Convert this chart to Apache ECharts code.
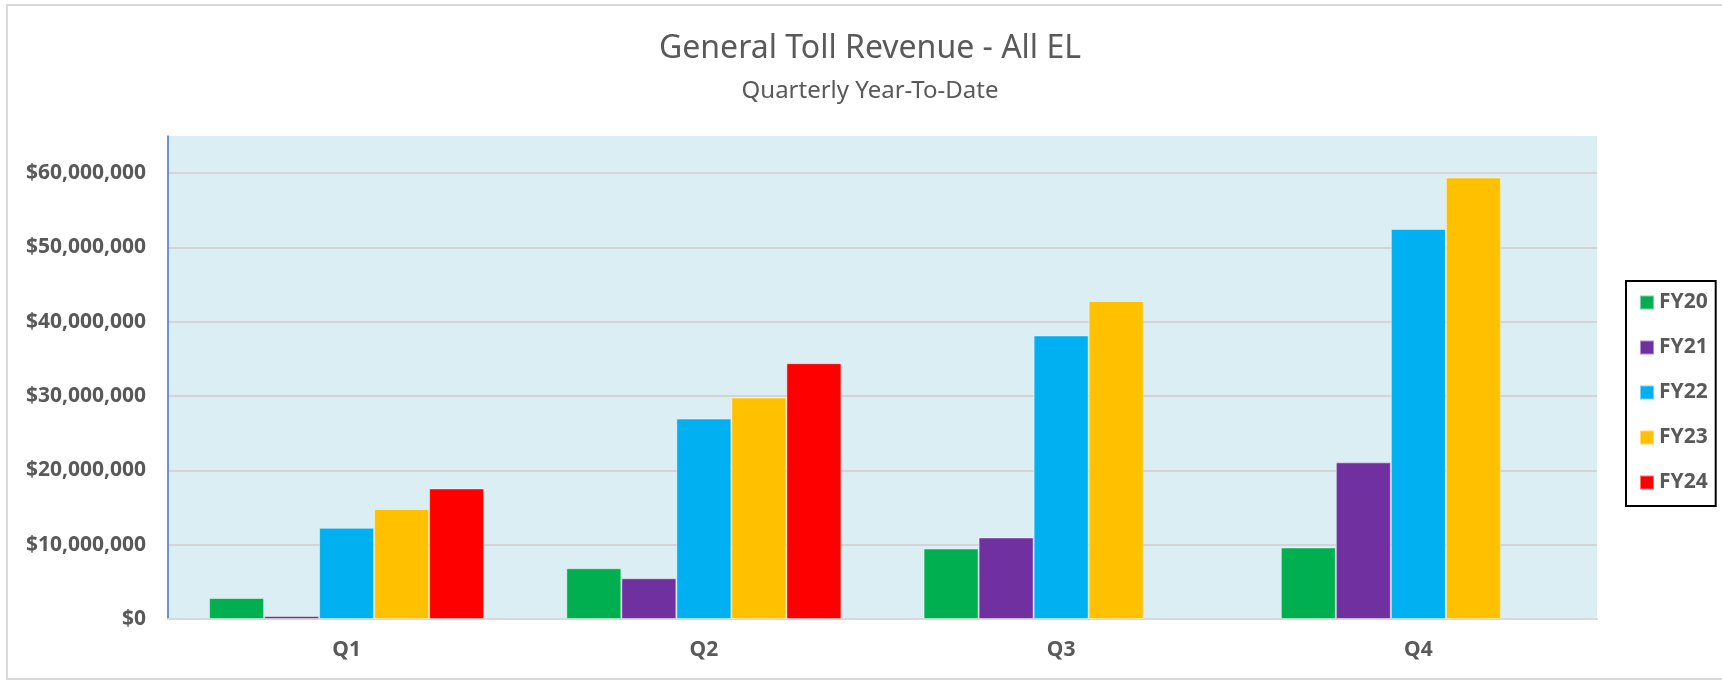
<!DOCTYPE html>
<html lang="en">
<head>
    <meta charset="utf-8">
    <title>General Toll Revenue - All EL</title>
    <script src="https://cdn.jsdelivr.net/npm/echarts@6/dist/echarts.min.js"></script>
    <style>
        html, body { margin: 0; padding: 0; background: #fff; }
        #main { width: 1722px; height: 681px; }
    </style>
</head>
<body>
    <div id="main"></div>
    <script type="text/javascript">
        // quarters on the x axis
        var quarters = ['Q1', 'Q2', 'Q3', 'Q4'];
        var fiscalYears = ['FY20', 'FY21', 'FY22', 'FY23', 'FY24'];

        // year-to-date revenue
        var fy20 = [2830000, 6830000, 9480000, 9620000];
        var fy21 = [400000, 5480000, 10970000, 21080000];
        var fy22 = [12270000, 26970000, 38160000, 52490000];
        var fy23 = [14790000, 29800000, 42790000, 59420000];
        var fy24 = [17570000, 34430000, null, null];

        var yTicks = [0, 10000000, 20000000, 30000000, 40000000, 50000000, 60000000];

        var seriesData = [fy20, fy21, fy22, fy23, fy24];
        var barColors = ['#00B050', '#7030A0', '#00B0F0', '#FFC000', '#FF0000'];
        var textGray = '#595959';
        var font = '"Noto Sans", "Open Sans", sans-serif';

        var myChart = echarts.init(document.getElementById('main'));

        var series = fiscalYears.map(function (name, i) {
            return {
                name: name,
                type: 'bar',
                data: seriesData[i],
                barGap: '0%',
                barCategoryGap: '23%',
                itemStyle: {
                    color: barColors[i],
                    borderColor: 'rgba(255,255,255,0.45)',
                    borderWidth: 1
                }
            };
        });

        myChart.setOption({
            animation: false,
            backgroundColor: '#fff',
            textStyle: { fontFamily: font },
            graphic: [{
                type: 'rect',
                shape: { x: 7, y: 5, width: 1730, height: 674 },
                style: { fill: 'none', stroke: '#D9D9D9', lineWidth: 2 },
                silent: true
            }],
            title: [
                {
                    text: 'General Toll Revenue - All EL',
                    left: 870,
                    top: 33,
                    textAlign: 'center',
                    padding: 0,
                    textStyle: { fontFamily: font, fontSize: 32, fontWeight: 'normal', color: textGray }
                },
                {
                    text: 'Quarterly Year-To-Date',
                    left: 870,
                    top: 79,
                    textAlign: 'center',
                    padding: 0,
                    textStyle: { fontFamily: font, fontSize: 24, fontWeight: 'normal', color: textGray }
                }
            ],
            legend: {
                data: fiscalYears,
                orient: 'vertical',
                left: 1626,
                top: 281,
                icon: 'rect',
                itemWidth: 14,
                itemHeight: 14,
                itemGap: 24,
                padding: [11, 8, 13, 13],
                borderColor: '#000',
                borderWidth: 2,
                textStyle: {
                    fontFamily: font,
                    fontSize: 21,
                    lineHeight: 21,
                    fontWeight: 'bold',
                    color: textGray
                }
            },
            grid: {
                left: 168,
                right: 125,
                top: 136,
                bottom: 62,
                show: true,
                backgroundColor: '#DAEEF3',
                borderWidth: 0
            },
            xAxis: {
                type: 'category',
                data: quarters,
                axisLine: { lineStyle: { color: '#D9D9D9', width: 2 } },
                axisTick: { show: false },
                axisLabel: {
                    margin: 21,
                    fontFamily: font,
                    fontSize: 21,
                    fontWeight: 'bold',
                    color: textGray
                }
            },
            yAxis: {
                type: 'value',
                min: yTicks[0],
                max: 65000000,
                interval: yTicks[1] - yTicks[0],
                axisLine: { show: true, lineStyle: { color: '#4472C4', width: 1.5 } },
                axisTick: { show: false },
                axisLabel: {
                    margin: 22,
                    showMaxLabel: false,
                    fontFamily: font,
                    fontSize: 21,
                    fontWeight: 'bold',
                    color: textGray,
                    formatter: function (v) {
                        return '$' + v.toLocaleString('en-US');
                    }
                },
                splitLine: {
                    show: true,
                    showMaxLine: false,
                    lineStyle: { color: '#D4D4D4', width: 2 }
                }
            },
            series: series
        });
    </script>
</body>
</html>
